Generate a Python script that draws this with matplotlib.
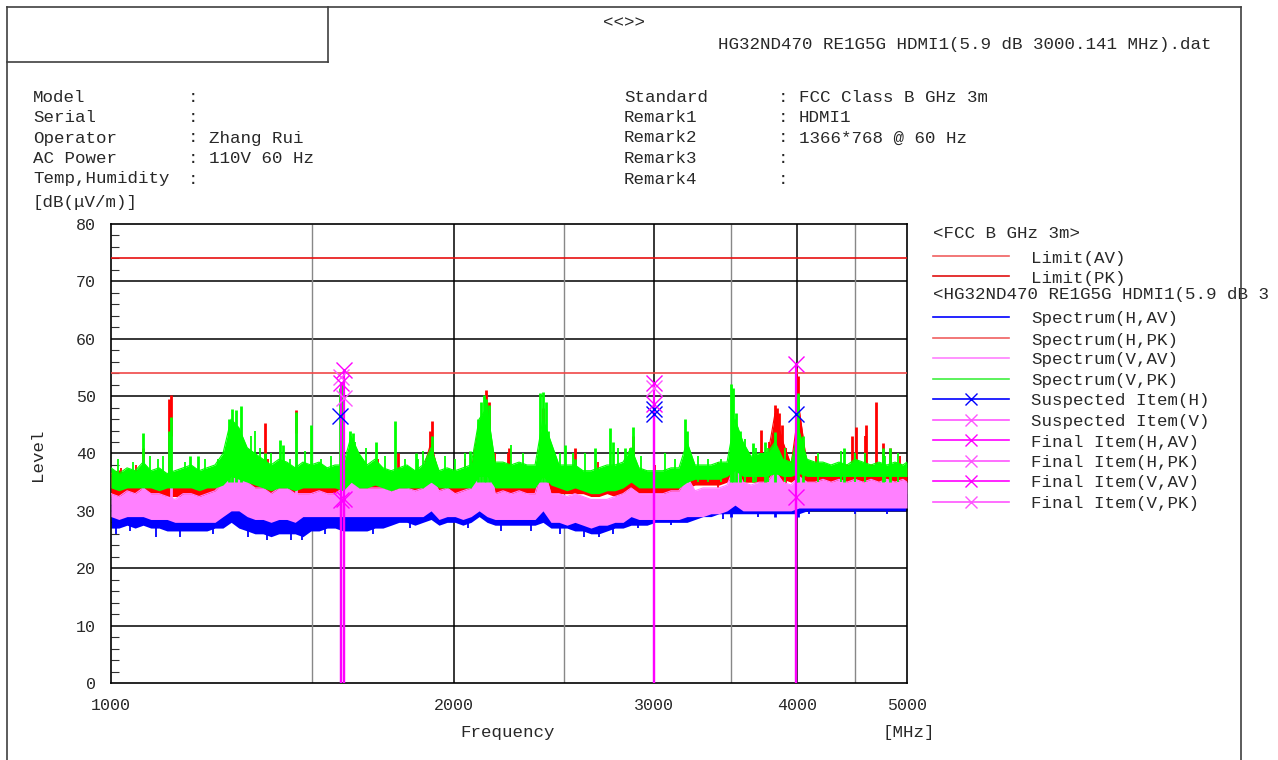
import numpy as np
import matplotlib
matplotlib.use("Agg")
import matplotlib.pyplot as plt
from matplotlib.lines import Line2D
from matplotlib.ticker import FixedLocator, NullLocator

# --- data (frequency in MHz, level in dB(uV/m)) ---
freq = [1000, 1016, 1033, 1050, 1067, 1084, 1102, 1120, 1138, 1157,
        1176, 1195, 1214, 1234, 1254, 1275, 1295, 1317, 1338, 1360,
        1382, 1404, 1427, 1451, 1474, 1498, 1523, 1548, 1573, 1599,
        1625, 1651, 1678, 1705, 1733, 1762, 1790, 1819, 1849, 1879,
        1910, 1941, 1973, 2005, 2037, 2071, 2105, 2139, 2174, 2209,
        2245, 2282, 2319, 2357, 2395, 2434, 2474, 2514, 2555, 2597,
        2639, 2682, 2726, 2770, 2816, 2862, 2908, 2956, 3004, 3053,
        3103, 3153, 3205, 3257, 3310, 3364, 3419, 3475, 3531, 3589,
        3647, 3707, 3767, 3829, 3891, 3955, 4019, 4085, 4151, 4219,
        4288, 4357, 4429, 4501, 4574, 4649, 4724, 4801, 4880, 4959, 5000]

# Spectrum(V,PK) - green
vpk_hi = [37.5, 36.5, 37.5, 37, 38.5, 37, 37.5, 36.5, 37, 37.5,
          38, 37, 37.5, 38, 40, 46, 44.5, 41, 40, 39,
          38, 39, 38.5, 37.5, 38.5, 38, 38.5, 37.5, 38, 38,
          43, 40, 38, 39, 37.5, 37, 37.5, 38, 37, 38,
          41, 37, 37.5, 37, 37.5, 38, 46, 48, 38.5, 38.5,
          38, 38.5, 38, 38, 46, 42, 38, 38, 38, 37,
          37, 37.5, 38, 38, 38.5, 41, 37.5, 37, 37, 37,
          37.5, 37.5, 42, 38, 38, 38, 38.5, 38.5, 46, 42,
          39.5, 40, 40, 42, 39, 38.5, 44, 39, 38.5, 38.5,
          38, 38.5, 38, 39, 38.5, 38, 38.5, 38, 38.5, 38, 38.5]
vpk_lo = [34, 33.5, 34, 34, 34, 34, 33.5, 34, 34, 34,
          34, 33.5, 34, 34, 34.5, 36, 35.5, 35, 34.5, 34,
          33.5, 34, 34, 33.5, 34, 34, 34, 34, 34, 33.5,
          35, 34, 34, 34.5, 34, 33.5, 34, 34, 34, 34,
          35, 34, 34, 34, 34, 34, 36, 36, 34, 34,
          34, 34, 34, 34, 36, 34.5, 34, 33.5, 34, 33.5,
          33, 33, 33.5, 33.5, 34, 35, 34, 34, 34, 34,
          34, 34, 35, 35.5, 35.5, 35.5, 35.5, 36, 37, 36,
          36, 36, 36, 36.5, 36, 36, 36.5, 36, 36, 36,
          36, 36, 36, 36, 36, 36, 36, 36, 36, 36, 36]

# Spectrum(H,PK) - red
hpk_hi = [36.5, 37, 36, 36.5, 37, 35.5, 36, 35.5, 35, 35.5,
          35, 35.5, 35, 35.5, 37, 41, 39, 37, 37, 38,
          36, 37, 37, 36, 36, 36, 36, 36, 35.5, 36,
          39, 37, 36, 37, 36, 35.5, 36, 36, 36, 37,
          42, 36, 36, 36, 36.5, 37, 45, 48, 37, 37,
          36.5, 37, 37, 36.5, 44, 38, 36, 37, 38, 36,
          35.5, 35.5, 36, 36, 37, 40, 36, 36, 36, 36,
          36, 36, 39, 37, 37, 37, 37, 37.5, 42, 39,
          37.5, 39, 39, 47, 42, 38, 48, 38, 37.5, 37.5,
          37.5, 37.5, 38, 37.5, 37.5, 38, 37.5, 37.5, 38, 37.5, 37.5]
hpk_lo = [32.5, 32.5, 33, 32.5, 33, 32.5, 32.5, 32.5, 32.5, 32.5,
          32.5, 32.5, 32.5, 32.5, 33, 34, 33.5, 33, 33, 33,
          32.5, 33, 32.5, 32.5, 32.5, 33, 32.5, 32.5, 32.5, 32.5,
          33.5, 33, 33, 33, 33, 32.5, 33, 33, 33, 33,
          34, 33, 33, 32.5, 33, 33, 35, 35, 33, 33,
          33, 33, 33, 32.5, 35, 33, 33, 33, 33, 33,
          32.5, 32.5, 33, 32.5, 33, 34, 33, 33, 33, 33,
          33, 33, 34, 34.5, 34.5, 34.5, 34.5, 35, 36, 35,
          35, 35, 35, 36, 35.5, 35, 36, 35, 35, 35,
          35, 35, 35, 35, 35, 35, 35, 35, 35, 35, 35]

# Spectrum(V,AV) - violet
vav_hi = [33, 32.5, 33.5, 33, 34, 33, 33, 32.5, 32, 33,
          33, 32.5, 33, 33.5, 35, 42, 38, 35, 34, 34,
          33, 34, 34, 33, 33, 33, 33.5, 33, 33, 34,
          35, 34, 34, 34, 34, 33.5, 34, 34, 33.5, 34,
          36, 33.5, 34, 33, 33.5, 34, 40, 42, 33, 33.5,
          33, 33.5, 33, 33, 38, 33, 33, 32.5, 33, 32.5,
          32, 32, 32, 32.5, 33, 34, 33, 33, 33, 33,
          33.5, 33.5, 36, 33.5, 34, 34, 34, 34.5, 38, 35,
          34.5, 35, 35, 37, 35, 34.5, 36, 35, 35, 35.5,
          35, 35.5, 35, 35.5, 35, 35.5, 35, 35.5, 35, 35.5, 35]
vav_lo = [29, 28.5, 29, 29, 29, 28.5, 28.5, 28.5, 28, 28,
          28, 28, 28, 28, 29, 30, 30, 29, 28.5, 28.5,
          28, 28.5, 28.5, 28, 29, 29, 29, 29, 29, 29,
          29, 29, 29, 29, 29, 29, 29, 29, 29, 29,
          30, 28.5, 29, 29, 28.5, 29, 30, 29, 28.5, 28.5,
          28.5, 28.5, 28.5, 28.5, 30, 28, 28, 27.5, 28, 27.5,
          27, 27.5, 27.5, 28, 28, 29, 28.5, 28.5, 28.5, 28.5,
          28.5, 28.5, 29, 29, 29, 29.5, 29.5, 30, 31, 30,
          30, 30, 30, 30, 30, 30, 30.5, 30.5, 30.5, 30.5,
          30.5, 30.5, 30.5, 30.5, 30.5, 30.5, 30.5, 30.5, 30.5, 30.5, 30.5]

# Spectrum(H,AV) - blue
hav_hi = [31, 30.5, 31, 31, 32, 31, 30.5, 30.5, 30, 30.5,
          30.5, 30, 30.5, 31, 32, 35, 32, 31, 30, 30,
          29.5, 30, 30, 30, 30, 30.5, 30, 30, 30, 30,
          30, 30, 30, 30.5, 31, 31, 31.5, 31, 31, 31,
          33, 31, 31, 31, 31, 31, 37, 40, 31, 31,
          31, 31, 31, 31, 36, 30, 30, 30, 30, 30,
          29.5, 29.5, 30, 30, 30.5, 31, 31, 31, 31, 31,
          31, 31, 32, 31.5, 32, 32, 32, 32, 33.5, 32,
          32, 32, 32, 35, 32, 32, 35, 32.5, 32.5, 33,
          33, 33, 33, 33, 33, 33, 33, 33, 33, 33, 33]
hav_lo = [27, 27, 27.5, 27, 27.5, 27, 27, 26.5, 26.5, 26.5,
          26.5, 26.5, 26.5, 27, 27, 28, 27, 26.5, 26, 26,
          25.5, 26, 26, 26, 25.5, 26.5, 26.5, 27, 27, 26.5,
          26.5, 26.5, 26.5, 27, 27, 27.5, 28, 28, 27.5, 28,
          28.5, 27.5, 28, 28, 27.5, 28, 29, 28, 27.5, 27.5,
          27.5, 27.5, 27.5, 27.5, 28, 27, 27, 27, 26.5, 26.5,
          26, 26, 26.5, 27, 27, 27.5, 27.5, 27.5, 28, 28,
          28, 28, 28, 28.5, 29, 29, 29.5, 29.5, 29.5, 29.5,
          29.5, 29.5, 29.5, 29.5, 29.5, 29.5, 29.5, 30, 30, 30,
          30, 30, 30, 30, 30, 30, 30, 30, 30, 30, 30]

# narrow peaks on top of the noise floor
vpk_spk_f = [1067, 1124, 1129, 1173, 1192, 1269, 1277, 1288, 1301, 1365,
             1407, 1416, 1454, 1498, 1589, 1595, 1621, 1630, 1709, 1776,
             1853, 1914, 2067, 2100, 2113, 2126, 2135, 2148, 2381, 2395,
             2410, 2420, 2504, 2555, 2661, 2743, 2760, 2827, 2856, 2873,
             3192, 3205, 3503, 3517, 3539, 3567, 3662, 3752, 3829, 3995,
             4011, 4052, 4402, 4763, 4831]
vpk_spk_v = [43.5, 44, 46.4, 39.5, 39.5, 46, 47.8, 47.5, 48.2, 40,
             42.4, 41.5, 47.3, 45, 51.5, 52.5, 44, 43.5, 42, 45.6,
             40, 43, 40.5, 46, 49, 50.2, 49.5, 48.5, 50.5, 50.7,
             49, 44, 41.5, 39, 41, 44.4, 42, 41, 41, 44.7,
             46.1, 44, 52.2, 51.5, 47, 44, 41.8, 42, 43.8, 50,
             50.5, 43, 41, 41, 41]
# small noise needles on the green trace
vpk_grs_f = [1014, 1045, 1082, 1100, 1111, 1161, 1209, 1241, 1262, 1327,
             1338, 1352, 1382, 1437, 1480, 1529, 1560, 1638, 1674, 1740,
             1812, 1861, 1879, 1964, 2005, 2046, 2245, 2300, 2478, 2545,
             2607, 2786, 2920, 3068, 3131, 3280, 3345, 3433, 3603, 3685,
             3775, 3909, 4174, 4376, 4501, 4592, 4780, 4910]
vpk_grs_v = [39, 38.5, 39.5, 39, 39.5, 38.5, 39, 39, 41, 43,
             44, 41, 40, 39, 40.5, 39, 39.5, 42, 41, 39.5,
             39, 39, 40.5, 39.5, 39, 40, 41.5, 40, 40, 40,
             40, 41, 39.5, 40, 39, 39.5, 39, 39, 42.5, 41,
             41, 41, 40, 40.5, 40, 40, 39.5, 40]

hpk_spk_f = [1067, 1124, 1129, 1275, 1365, 1454, 1630, 1786, 1906, 1914,
             2100, 2135, 2148, 2236, 2395, 2555, 2856, 2873, 3192, 3517,
             3722, 3829, 3844, 3860, 3883, 3995, 4011, 4474, 4510, 4602,
             4696, 4763, 4831]
hpk_spk_v = [41, 49.5, 50.2, 41.5, 45.3, 47.5, 40, 40, 44, 45.6,
             44, 51.1, 49, 41, 48, 41, 41, 43, 40.4, 42,
             44.1, 48.4, 48, 47, 45, 54.9, 53.5, 43, 44.7, 45,
             49, 41.8, 41]
hpk_grs_f = [1021, 1052, 1373, 1614, 1716, 2046, 2174, 2232, 2240, 2677,
             3004, 3412, 3786, 3867, 3916, 4160, 4592, 4932]
hpk_grs_v = [37.5, 38, 39, 40, 39, 39, 40, 40, 40, 38.5,
             38, 38.5, 42, 43, 41, 39.5, 43, 39.5]

vav_spk_f = [1067, 1129, 1281, 1454, 1914, 2126, 2395, 3192, 3503, 3829, 3995]
vav_spk_v = [36, 43, 43, 43.6, 38, 45, 45.3, 36.4, 39.8, 38, 40]
hav_spk_f = [1454, 1595, 2126, 2395, 3503, 3829, 3995, 4011]
hav_spk_v = [38, 41.5, 44.7, 39.8, 34, 35, 45.5, 42]
# dips of the blue trace below its floor
hav_dip_f = [1010, 1040, 1095, 1150, 1230, 1320, 1370, 1440, 1470, 1540,
             1700, 1830, 2060, 2200, 2340, 2480, 2600, 2680, 2760, 2900,
             3100, 3450, 3700, 4100, 4500, 4800]
hav_dip_v = [26, 26.5, 25.5, 25.5, 26, 25.5, 25, 25, 25, 26,
             26, 27, 27, 26.5, 26.5, 26, 25.5, 25.5, 26, 27,
             27.5, 28.5, 29, 29.5, 29.5, 29.5]

# limits
limit_av = 54
limit_pk = 74

# markers
susp_h_f = [1589, 2998, 3000, 3998]
susp_h_v = [46.5, 47.7, 46.9, 46.9]
susp_v_f = [1592, 1602, 3000]
susp_v_v = [53.3, 49.6, 51.4]
fin_hav_f = [1592, 3998]
fin_hav_v = [31.9, 32.4]
fin_hpk_f = [1592, 3000]
fin_hpk_v = [52.3, 48.6]
fin_vav_f = [1602]
fin_vav_v = [32.0]
fin_vpk_f = [1602, 3000, 3998]
fin_vpk_v = [54.5, 52.3, 55.6]

x_ticks = [1000, 2000, 3000, 4000, 5000]
y_ticks = list(range(0, 81, 10))

header_left = [("Model", ""), ("Serial", ""), ("Operator", "Zhang Rui"),
               ("AC Power", "110V 60 Hz"), ("Temp,Humidity", "")]
header_right = [("Standard", "FCC Class B GHz 3m"), ("Remark1", "HDMI1"),
                ("Remark2", "1366*768 @ 60 Hz"), ("Remark3", ""), ("Remark4", "")]

C_HAV, C_HPK, C_VAV, C_VPK = "#0000ff", "#ff0000", "#ff80ff", "#00ff00"
C_FIN = "#ff00ff"
C_SUSV = "#ff55ff"

# --- figure ---
W, H = 1278, 760
plt.rcParams['font.family'] = ['Liberation Mono', 'DejaVu Sans Mono']
FS = 12.6

fig = plt.figure(figsize=(W / 100, H / 100), dpi=100)


def fx(x):
    return x / W


def fy(y):
    return 1 - y / H


def ftext(x, y, s, **kw):
    kw.setdefault("fontsize", FS)
    kw.setdefault("va", "center")
    fig.text(fx(x), fy(y), s, color="#282828", **kw)


ax = fig.add_axes([fx(111), fy(683), (907 - 111) / W, (683 - 224) / H])
ax.set_xscale("log")
ax.set_xlim(1000, 5000)
ax.set_ylim(0, 80)

ax.xaxis.set_major_locator(FixedLocator(x_ticks))
ax.xaxis.set_minor_locator(NullLocator())
ax.set_xticklabels([str(t) for t in x_ticks])
ax.yaxis.set_major_locator(FixedLocator(y_ticks))
ax.set_yticklabels([str(t) for t in y_ticks])
ax.yaxis.set_minor_locator(FixedLocator(np.arange(0, 81, 2)))
ax.tick_params(axis="both", which="major", length=0, labelsize=FS - 0.6,
               labelcolor="#282828")
ax.tick_params(axis="x", pad=11)
ax.tick_params(axis="y", pad=11)
ax.tick_params(axis="y", which="minor", direction="in", length=6,
               width=0.8, color="#303030")

for sp in ax.spines.values():
    sp.set_color("black")
    sp.set_linewidth(1.2)

# grid
ax.hlines(y_ticks[1:-1], 1000, 5000, colors="black", lw=1.1, zorder=1)
ax.vlines([2000, 3000, 4000], 0, 80, colors="black", lw=1.1, zorder=1)
ax.vlines([1500, 2500, 3500, 4500], 0, 80, colors="#888888", lw=1.0, zorder=1)

# spectra: noise floor band, narrow peaks and small needles
traces = [
    (hav_lo, hav_hi, hav_spk_f, hav_spk_v, [], [], C_HAV, 29),
    (hpk_lo, hpk_hi, hpk_spk_f, hpk_spk_v, hpk_grs_f, hpk_grs_v, C_HPK, 34),
    (vav_lo, vav_hi, vav_spk_f, vav_spk_v, [], [], C_VAV, 31),
    (vpk_lo, vpk_hi, vpk_spk_f, vpk_spk_v, vpk_grs_f, vpk_grs_v, C_VPK, 35),
]
for k, (lo, hi, sf, sv, gf, gv, col, base) in enumerate(traces):
    z = 2 + k
    ax.fill_between(freq, lo, hi, color=col, lw=0, zorder=z)
    ax.plot(freq, hi, color=col, lw=0.8, zorder=z)
    ax.vlines(sf, base, sv, colors=col, lw=2.0, zorder=z)
    if gf:
        ax.vlines(gf, base, gv, colors=col, lw=1.3, zorder=z)
    if col == C_HAV:
        ax.vlines(hav_dip_f, hav_dip_v, 30, colors=col, lw=1.3, zorder=z)

# limits
ax.axhline(limit_av, color="#f04848", lw=1.2, zorder=6)
ax.axhline(limit_pk, color="#e81010", lw=1.2, zorder=6)

# final item stems
finals = [(fin_hav_f, fin_hav_v), (fin_hpk_f, fin_hpk_v),
          (fin_vav_f, fin_vav_v), (fin_vpk_f, fin_vpk_v)]
for ff, vv in finals:
    ax.vlines(ff, 0, vv, colors=C_FIN, lw=1.6, zorder=7)

ms, mew = 11, 1.0
ax.plot(susp_h_f, susp_h_v, "x", color=C_HAV, ms=ms, mew=mew, zorder=8)
ax.plot(susp_v_f, susp_v_v, "x", color=C_SUSV, ms=ms, mew=mew, zorder=8)
for ff, vv in finals:
    ax.plot(ff, vv, "x", color=C_FIN, ms=ms, mew=mew, zorder=8)

# axis labels
ftext(37, 455, "Level", rotation=90, ha="center")
ftext(508, 733, "Frequency", ha="center")
ftext(882, 733, "[MHz]", ha="left")
ftext(33, 202, "[dB(\u03bcV/m)]", ha="left")

# header
ftext(624, 23, "<<>>", ha="center")
ftext(718, 45, "HG32ND470 RE1G5G HDMI1(5.9 dB 3000.141 MHz).dat", ha="left")
for k, (lab, val) in enumerate(header_left):
    y = 97 + k * 20.5
    ftext(33, y, lab)
    ftext(188, y, ":")
    if val:
        ftext(209, y, val)
for k, (lab, val) in enumerate(header_right):
    y = 97 + k * 20.5
    ftext(624, y, lab)
    ftext(778, y, ":")
    if val:
        ftext(799, y, val)

# legend (second group title is cut at the page edge in the report)
ftext(933, 234, "<FCC B GHz 3m>")
ftext(933, 295, "<HG32ND470 RE1G5G HDMI1(5.9 dB 3")
leg = [("Limit(AV)", "#f06060", False, 258), ("Limit(PK)", "#e01010", False, 278),
       ("Spectrum(H,AV)", C_HAV, False, 319), ("Spectrum(H,PK)", "#f06060", False, 340),
       ("Spectrum(V,AV)", C_VAV, False, 360), ("Spectrum(V,PK)", "#40f040", False, 381),
       ("Suspected Item(H)", C_HAV, True, 401), ("Suspected Item(V)", C_SUSV, True, 422),
       ("Final Item(H,AV)", C_FIN, True, 442), ("Final Item(H,PK)", C_SUSV, True, 463),
       ("Final Item(V,AV)", C_FIN, True, 483), ("Final Item(V,PK)", C_SUSV, True, 504)]
for lab, col, mk, y in leg:
    fig.add_artist(Line2D([fx(933), fx(1009)], [fy(y - 2), fy(y - 2)],
                          color=col, lw=1.2))
    if mk:
        fig.add_artist(Line2D([fx(971)], [fy(y - 2)], marker="x", ms=9,
                              mew=1.0, color=col, lw=0))
    ftext(1031, y, lab)

# frame
frame = "#404040"
for xs, ys in [([7, 1241], [7, 7]), ([7, 7], [7, 760]), ([1241, 1241], [7, 760]),
               ([328, 328], [7, 62]), ([7, 328], [62, 62])]:
    fig.add_artist(Line2D([fx(v) for v in xs], [fy(v) for v in ys],
                          color=frame, lw=1.2, zorder=10))

fig.savefig("out.png", dpi=100)
